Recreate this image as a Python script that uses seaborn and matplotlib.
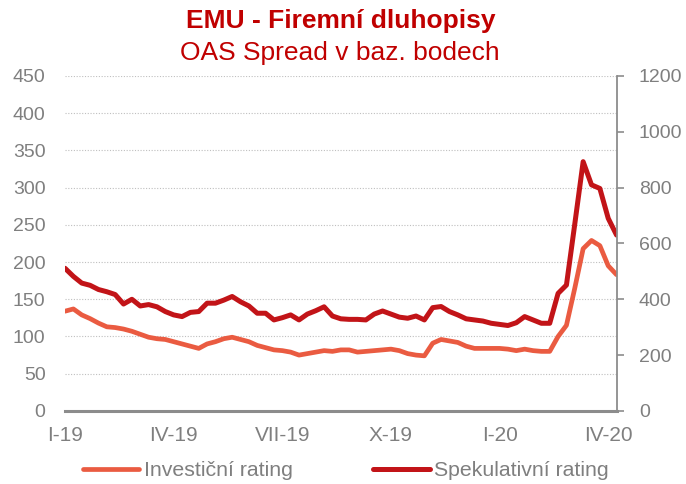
import pandas as pd
import numpy as np
import matplotlib
matplotlib.use("Agg")
import matplotlib.pyplot as plt
import seaborn as sns

# weekly OAS spreads (bp), Jan 2019 - Apr 2020
investicni = [134, 137, 129, 124, 118, 113, 112, 110, 107, 103, 99, 97, 96, 93, 90, 87, 84,
              90, 93, 97, 99, 96, 93, 88, 85, 82, 81, 79, 75, 77, 79, 81, 80, 82, 82, 79,
              80, 81, 82, 83, 81, 77, 75, 74, 91, 96, 94, 92, 87, 84, 84, 84, 84, 83, 81,
              83, 81, 80, 80, 100, 115, 165, 218, 229, 222, 195, 183]
spekulativni = [511, 482, 458, 450, 435, 427, 417, 383, 400, 376, 381, 373, 356, 344, 338, 353,
                356, 386, 386, 397, 410, 391, 376, 350, 350, 326, 334, 344, 326, 347, 359, 373,
                340, 330, 328, 328, 326, 347, 358, 347, 336, 332, 340, 326, 370, 374, 356, 344,
                330, 326, 322, 314, 310, 306, 316, 338, 326, 314, 314, 421, 451, 670, 893, 810,
                797, 690, 630]
tick_pos = [0, 13, 26, 39, 52, 65]
tick_labels = ["I-19", "IV-19", "VII-19", "X-19", "I-20", "IV-20"]

df = pd.DataFrame({"tyden": np.arange(len(investicni)),
                   "inv": investicni, "spek": spekulativni})

sns.set_theme(style="white")
plt.rcParams["font.family"] = ["Liberation Sans", "DejaVu Sans"]

light = "#EA5B41"
dark = "#C21418"
grey = "#7F7F7F"

fig = plt.figure(figsize=(6.86, 4.84), dpi=100)
ax = fig.add_axes([0.0948, 0.151, 0.804, 0.692])
ax2 = ax.twinx()

sns.lineplot(data=df, x="tyden", y="inv", ax=ax, color=light, linewidth=3.4,
             label="Investiční rating", legend=False, solid_joinstyle="round")
sns.lineplot(data=df, x="tyden", y="spek", ax=ax2, color=dark, linewidth=3.6,
             label="Spekulativní rating", legend=False, solid_joinstyle="round")

ax.set_xlim(0, len(investicni) - 1)
ax.set_ylim(0, 450)
ax2.set_ylim(0, 1200)
ax.set_yticks(range(0, 451, 50))
ax2.set_yticks(range(0, 1201, 200))
ax.set_xticks(tick_pos)
ax.set_xticklabels(tick_labels)
ax.set_xlabel("")
ax.set_ylabel("")
ax2.set_ylabel("")

ax.yaxis.grid(True, linestyle=(0, (1, 1.5)), color="#BFBFBF", linewidth=0.8)
ax.set_axisbelow(True)

for a in (ax, ax2):
    for s in a.spines.values():
        s.set_visible(False)
ax.spines["bottom"].set_visible(True)
ax.spines["bottom"].set_color("#8C8C8C")
ax.spines["bottom"].set_linewidth(2.2)
ax2.spines["right"].set_visible(True)
ax2.spines["right"].set_color("#8C8C8C")
ax2.spines["right"].set_linewidth(1.3)

ax.tick_params(axis="y", length=0, pad=14, labelsize=14, labelcolor=grey)
ax.tick_params(axis="x", length=0, pad=11, labelsize=15, labelcolor=grey)
ax2.tick_params(axis="y", length=5, width=1.2, color="#8C8C8C", pad=11,
                labelsize=14, labelcolor=grey)

fig.text(0.496, 0.957, "EMU - Firemní dluhopisy", ha="center", va="center",
         fontsize=19, fontweight="bold", color="#C00000")
fig.text(0.496, 0.89, "OAS Spread v baz. bodech", ha="center", va="center",
         fontsize=19, color="#C00000")

h1, l1 = ax.get_legend_handles_labels()
h2, l2 = ax2.get_legend_handles_labels()
leg = fig.legend(h1 + h2, l1 + l2, loc="center", bbox_to_anchor=(0.504, 0.028),
                 ncol=2, frameon=False, fontsize=15.3, handlelength=2.65,
                 handletextpad=0.2, columnspacing=3.8)
for t in leg.get_texts():
    t.set_color(grey)
for h in leg.legend_handles:
    h.set_solid_capstyle("round")

fig.savefig("out.png", dpi=100)
